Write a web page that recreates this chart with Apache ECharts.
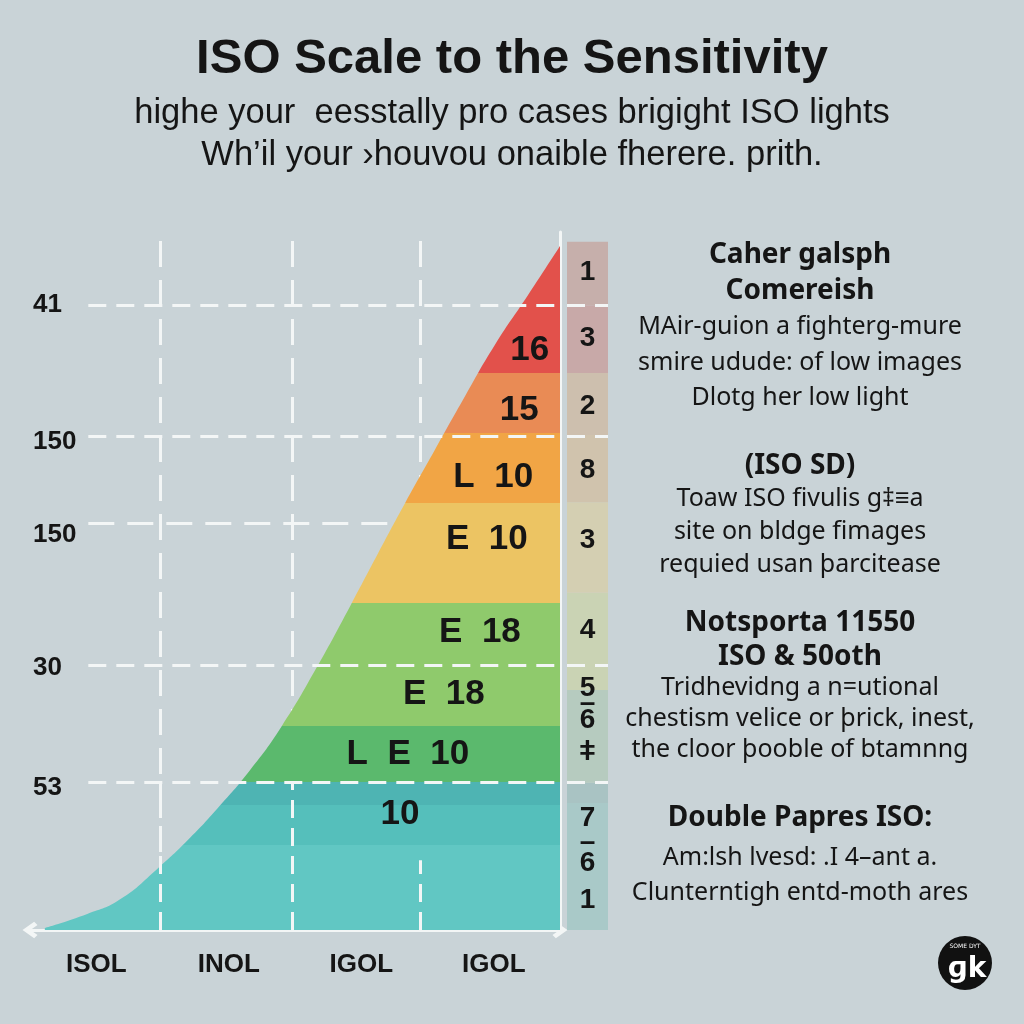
<!DOCTYPE html>
<html><head><meta charset="utf-8">
<script src="https://cdn.jsdelivr.net/npm/echarts@6/dist/echarts.min.js"></script>
<style>html,body{margin:0;padding:0;background:#c9d3d7}#c{width:1024px;height:1024px}</style>
</head><body><div id="c"></div>
<script>
// ---- data ----
const categories = ['ISOL', 'INOL', 'IGOL', 'IGOL'];
const curveX = [2.8, 10.8, 17.0, 24.2, 30.2, 35.8, 41.5, 47.4, 54.0, 60.4, 65.7, 70.8, 76.4, 82.1, 87.7, 94.0, 100];
const curveY = [0.3, 2.3, 4.4, 8.9, 13.2, 17.8, 22.9, 29.1, 37.5, 46.4, 54.0, 61.2, 68.8, 76.5, 83.8, 91.0, 98.0];
const bandEdges = [12.2, 17.9, 21.2, 29.2, 46.8, 61.2, 71.2, 79.8];
const bandColors = ['#61c7c3', '#55bfbb', '#4eb4b3', '#5bb96d', '#8fca6c', '#ecc463', '#f1a545', '#e98b55', '#e2514b'];
const refLevels = [89.5, 70.8, 58.3, 38.0, 21.2];
const yTickLabelLevels = [89.5, 69.9, 56.6, 37.5, 20.3];
const yTickLabels = ['41', '150', '150', '30', '53'];
const vLineX = [24.5, 49.4, 73.6];
const bandLabels = ['16', '15', 'L  10', 'E  10', 'E  18', 'E  18', 'L  E  10', '10'];
const bandLabelX = [94.3, 92.3, 87.4, 86.2, 84.9, 78.1, 71.3, 69.8];
const bandLabelY = [83.1, 74.5, 64.8, 55.9, 42.7, 33.7, 25.1, 16.5];
const colEdges = [0, 18.2, 21.1, 34.4, 48.3, 61.3, 70.9, 79.8, 89.5, 98.6];
const colColors = ['#a9c9c8', '#a9c3c3', '#b6cbbf', '#cad3b4', '#d4cfb2', '#d0c3ad', '#cdbfae', '#c8a9a8', '#c6afab'];
const colNumbers = ['1', '3', '2', '8', '3', '4', '5', '\u2013', '6', '\u01c2', '7', '\u2013', '6', '1'];
const colNumberY = [94.3, 84.8, 75.1, 65.9, 55.9, 43.0, 34.7, 32.5, 30.1, 25.5, 16.0, 12.6, 9.6, 4.3];
const titleText = 'ISO Scale to the Sensitivity';
const subtitleLines = ['highe your  eesstally pro cases brigight ISO lights', 'Wh\u2019il your \u203ahouvou onaible fherere. prith.'];
const noteHeads = [['Caher galsph', 'Comereish'], ['(ISO SD)'], ['Notsporta 11550', 'ISO & 50oth'], ['Double Papres ISO:']];
const noteBodies = [
  ['MAir-guion a fighterg-mure', 'smire udude: of low images', 'Dlotg her low light'],
  ['Toaw ISO fivulis g\u2021\u2261a', 'site on bldge fimages', 'requied usan \u00fearcitease'],
  ['Tridhevidng a n=utional', 'chestism velice or \u00ferick, inest,', 'the cloor \u00feooble of btamnng'],
  ['Am:lsh lvesd: .I 4\u2013ant a.', 'Clunterntigh entd-moth ares']
];

// ---- layout (not data) ----
const noteLayout = [
  { head: 255, headLH: 36, body: 327, bodyLH: 35.5 },
  { head: 466, headLH: 36, body: 499, bodyLH: 33 },
  { head: 623, headLH: 34, body: 688, bodyLH: 31 },
  { head: 818, headLH: 36, body: 858, bodyLH: 35 }
];
const INK = '#151515';
const LINE = '#f3f6f6';
const narrow = "'Liberation Sans Narrow', 'Liberation Sans', sans-serif";
const chevron = 'path://M5,0 L10,7 L8,9 L5,4.8 L2,9 L0,7 Z';

const chart = echarts.init(document.getElementById('c'));

const pieces = bandColors.map((c, i) => {
  const p = { color: c };
  if (i > 0) p.gte = bandEdges[i - 1];
  if (i < bandEdges.length) p.lt = bandEdges[i];
  return p;
});

const dashH = { color: LINE, width: 3, type: [18, 10] };
const dashV = { color: LINE, width: 3, type: [26, 13] };
const hStart = 11;
const underIdx = [2];

const overLines = [];
const underLines = [];
refLevels.forEach((lv, i) => {
  const seg = [{ coord: [hStart, lv] }, { coord: [100, lv] }];
  (underIdx.includes(i) ? underLines : overLines).push(seg);
});
vLineX.forEach((x) => underLines.push([{ coord: [x, 0] }, { coord: [x, 100] }]));
// portions of the vertical lines that show through the teal base
vLineX.forEach((x, i) => overLines.push([{ coord: [x, 0] }, { coord: [x, i < 2 ? 21.2 : 10] }]));

const colSeries = colColors.map((c, i) => ({
  type: 'bar', xAxisIndex: 2, yAxisIndex: 2, stack: 'col', barWidth: '100%',
  data: [+(colEdges[i + 1] - colEdges[i]).toFixed(2)],
  itemStyle: { color: c }, silent: true, z: 1
}));

const graphics = [];
noteHeads.forEach((lines, k) => {
  const L = noteLayout[k];
  lines.forEach((t, j) => graphics.push({
    type: 'text', x: 800, y: L.head + j * L.headLH,
    style: { text: t, textAlign: 'center', textVerticalAlign: 'middle', fill: INK,
      font: "bold 28px 'Noto Sans', sans-serif" }
  }));
  noteBodies[k].forEach((t, j) => graphics.push({
    type: 'text', x: 800, y: L.body + j * L.bodyLH,
    style: { text: t, textAlign: 'center', textVerticalAlign: 'middle', fill: INK,
      font: "25px 'Noto Sans', sans-serif" }
  }));
});
graphics.push({ type: 'circle', shape: { cx: 965, cy: 963, r: 27 }, style: { fill: '#111' } });
graphics.push({ type: 'text', x: 967, y: 970, style: { text: '\u0261k', textAlign: 'center', textVerticalAlign: 'middle', fill: '#fff', font: "bold 28px 'DejaVu Sans', sans-serif" } });
graphics.push({ type: 'text', x: 965, y: 946, style: { text: 'SOME DYT', textAlign: 'center', textVerticalAlign: 'middle', fill: '#fff', font: "6px 'DejaVu Sans', sans-serif" } });

chart.setOption({
  backgroundColor: '#c9d3d7',
  animation: false,
  title: {
    text: titleText,
    subtext: subtitleLines.join('\n'),
    left: 'center', top: 34, padding: 0, itemGap: 8,
    textStyle: { fontSize: 49, fontWeight: 'bold', color: INK, fontFamily: "'Liberation Sans', sans-serif", lineHeight: 50 },
    subtextStyle: { fontSize: 34.5, color: INK, fontFamily: "'Liberation Sans', sans-serif", lineHeight: 42 }
  },
  grid: [
    { left: 30, top: 232, width: 530, bottom: 94 },
    { left: 567, top: 232, width: 41, bottom: 94 }
  ],
  xAxis: [
    { type: 'category', gridIndex: 0, data: categories, boundaryGap: true,
      axisLine: { show: true, onZero: false, lineStyle: { color: LINE, width: 3 }, symbol: [chevron, chevron], symbolSize: [22, 15] },
      axisTick: { show: false }, splitLine: { show: false },
      axisLabel: { color: INK, fontSize: 26, fontWeight: 'bold', margin: 22, fontFamily: "'Liberation Sans', sans-serif" } },
    { type: 'value', gridIndex: 0, min: 0, max: 100, show: false, axisLine: { show: false, onZero: false } },
    { type: 'category', gridIndex: 1, data: ['ISO'], show: false, axisLine: { show: false, onZero: false } }
  ],
  yAxis: [
    { type: 'value', gridIndex: 0, min: 0, max: 100, position: 'right',
      axisLine: { show: true, onZero: false, lineStyle: { color: LINE, width: 3 } },
      axisTick: { show: false }, axisLabel: { show: false }, splitLine: { show: false } },
    { type: 'value', gridIndex: 0, min: 0, max: 100, position: 'left', offset: -60,
      axisLine: { show: false, onZero: false }, axisTick: { show: false }, splitLine: { show: false },
      axisLabel: { customValues: yTickLabelLevels, align: 'left', margin: 57,
        formatter: (v) => { const i = yTickLabelLevels.indexOf(v); return i >= 0 ? yTickLabels[i] : ''; },
        color: INK, fontSize: 26, fontWeight: 'bold', fontFamily: "'Liberation Sans', sans-serif" } },
    { type: 'value', gridIndex: 1, min: 0, max: 100, show: false, axisLine: { show: false, onZero: false } }
  ],
  visualMap: { type: 'piecewise', show: false, dimension: 1, seriesIndex: 0, pieces: pieces },
  graphic: graphics,
  series: [
    { name: 'Sensitivity', type: 'line', xAxisIndex: 1, yAxisIndex: 0, z: 2,
      data: curveX.map((x, i) => [x, curveY[i]]),
      smooth: 0.5, symbol: 'none', silent: true,
      lineStyle: { width: 0 }, areaStyle: { opacity: 1 } },
    { type: 'line', xAxisIndex: 1, yAxisIndex: 0, data: [], z: 1,
      markLine: { silent: true, symbol: 'none', z: 1, label: { show: false }, lineStyle: dashV, data: underLines } },
    { type: 'line', xAxisIndex: 1, yAxisIndex: 0, data: [], z: 5,
      markLine: { silent: true, symbol: 'none', z: 5, label: { show: false }, lineStyle: dashH, data: overLines } },
    { type: 'scatter', xAxisIndex: 1, yAxisIndex: 0, z: 6, symbolSize: 1, silent: true,
      itemStyle: { opacity: 0 },
      data: bandLabels.map((t, i) => ({ value: [bandLabelX[i], bandLabelY[i]], name: t })),
      label: { show: true, position: 'inside', formatter: '{b}', color: INK, opacity: 1, fontSize: 35, fontWeight: 'bold', fontFamily: narrow } },
    ...colSeries,
    { type: 'line', xAxisIndex: 2, yAxisIndex: 2, data: [], z: 5,
      markLine: { silent: true, symbol: 'none', label: { show: false }, lineStyle: dashH,
        data: refLevels.filter((_, i) => !underIdx.includes(i)).map(v => ({ yAxis: v })) } },
    { type: 'scatter', xAxisIndex: 2, yAxisIndex: 2, z: 6, symbolSize: 1, silent: true,
      itemStyle: { opacity: 0 },
      data: colNumbers.map((t, i) => ({ value: [0, colNumberY[i]], name: t })),
      label: { show: true, position: 'inside', formatter: '{b}', color: INK, opacity: 1, fontSize: 28, fontWeight: 'bold', fontFamily: "'Liberation Sans', sans-serif" } }
  ]
});
</script></body></html>
